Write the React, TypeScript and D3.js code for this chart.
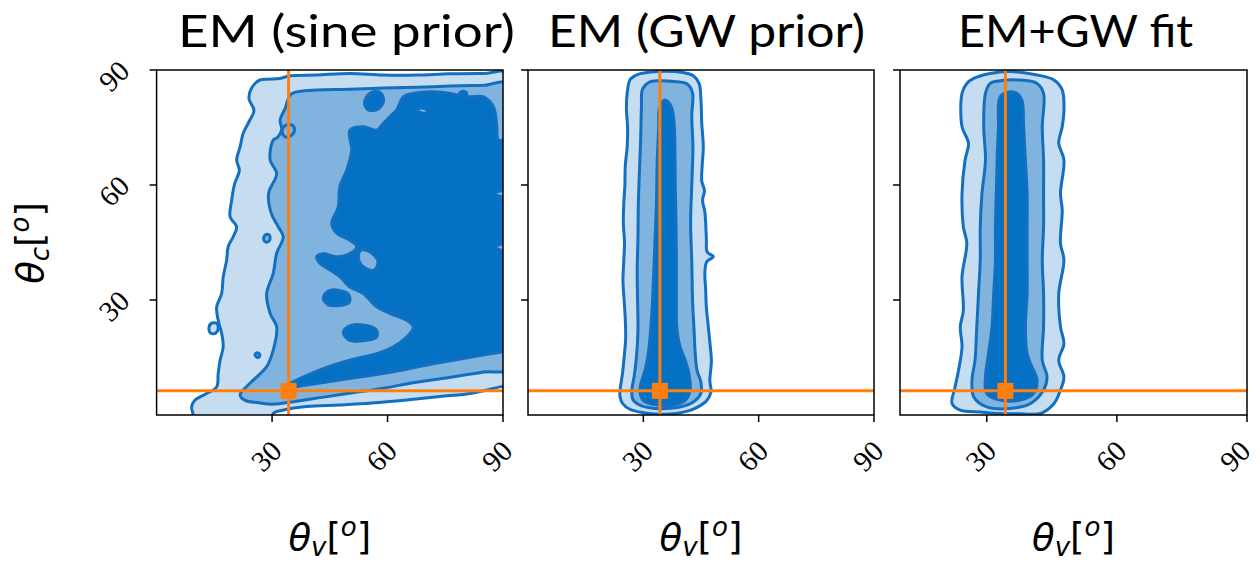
import React from "react";
import * as d3 from "d3";

type P = [number, number];

// ---------- data ----------
const panelTitles = ["EM (sine prior)", "EM (GW prior)", "EM+GW fit"];
const xDomains: [number, number][] = [[0, 90], [0, 90], [10, 90]];
const yDomain: [number, number] = [0, 90];
const xTicks = [30, 60, 90];
const yTicks = [30, 60, 90];
const trueThetaV = 34.3;
const trueThetaC = 6.3;

// Panel 1: EM (sine prior)
const sineOuter: P[] = [
  [92, 88.8], [84.9, 89.1], [76.2, 89.0], [67.6, 88.7], [58.9, 88.7], [50.2, 89.1], [41.6, 88.7],
  [34.7, 88.5], [32, 87.8], [29, 87.6], [26.9, 87.4], [24.8, 85.5], [24.0, 82.5], [25.3, 79.5],
  [24.0, 76.5], [22.5, 73.5], [21.7, 70], [20.8, 66.5], [21.5, 63.8], [20.3, 60.4], [19.5, 56],
  [19.1, 51.7], [20.8, 49.1], [19.9, 46.5], [18.6, 43.9], [18.2, 40.4], [17.3, 36], [16.9, 31.7],
  [15.6, 28.2], [16.0, 24.7], [16.9, 21.3], [17.3, 17.8], [16.5, 14.3], [16.0, 10.8], [15.6, 7.3],
  [13.0, 5.6], [10.0, 3.9], [9.1, 2.1], [9.5, 0], [9.5, -3], [30, -3], [30.3, 0.4], [33, 1.3],
  [39, 2.2], [47.6, 2.6], [56, 3.1], [65, 3.9], [73.6, 4.8], [82, 5.7], [89.6, 7.4], [92, 7.8],
];
const sineOuterIsland: P[] = [[13.6, 22.6], [14.2, 23.9], [15.6, 23.9], [16.0, 22.6], [15.4, 21.4], [14.1, 21.3]];
const sineMedium: P[] = [
  [92, 86.2], [84.9, 86.0], [76.2, 85.8], [67.6, 85.5], [58.9, 85.3], [50.2, 85.0], [41.6, 84.8],
  [36.4, 84.3], [34.7, 83.5], [33.4, 80], [32.1, 77], [32.5, 74.5], [31.5, 72.5], [30.3, 71.7],
  [29.5, 66.5], [31.2, 63], [29.1, 57.8], [29.8, 52.6], [31.6, 49.1], [32.9, 46.5], [31.2, 42.2],
  [30.3, 36.9], [28.6, 31.7], [29.5, 26.5], [31.2, 23], [30.3, 16.9], [28.6, 12.6], [25.1, 9.1],
  [22.5, 6.5], [21.7, 5.2], [23.0, 3.8], [26.5, 3.2], [30, 2.8], [36.4, 3.6], [43, 4.6], [51, 5.8],
  [59, 7.0], [67, 8.5], [76, 9.8], [85, 11.2], [92, 12.5],
];
const sineMediumIslandA: P[] = [[32.6, 74.0], [33.5, 75.6], [35.3, 75.6], [35.8, 74.2], [34.8, 72.8], [33.3, 72.6]];
const sineMediumIslandB: P[] = [[27.8, 46.1], [28.3, 47.0], [29.2, 47.0], [29.5, 46.1], [29.0, 45.2], [28.2, 45.2]];
const sineMediumIslandC: P[] = [[25.6, 15.6], [26.0, 16.2], [26.6, 16.1], [26.8, 15.5], [26.3, 15.0]];
const sineDark: P[] = [
  [64.1, 83.0], [66.7, 83.9], [71.9, 84.3], [76.2, 83.9], [80.6, 83.0], [84.9, 83.0], [87.5, 80.4],
  [88.4, 75.2], [88.8, 71.7], [92, 71.7], [92, 16.8], [90, 16.5], [80, 14.8], [70, 13], [60, 11],
  [50, 9.5], [42, 8.3], [36.5, 7.4], [33.8, 6.6], [33.0, 7.2], [36.4, 9.1], [43.3, 12.1], [50.2, 14.3],
  [57.2, 16.0], [61.5, 17.8], [65.0, 20.4], [66.7, 23.0], [65.0, 24.7], [60.6, 26.5], [57.2, 28.2],
  [53.7, 31.7], [50.2, 33.4], [47.6, 36.1], [45.1, 37.8], [42.5, 39.5], [41.6, 41.3], [43.3, 42.1],
  [46.8, 41.3], [50.2, 42.1], [52.0, 43.9], [50.2, 45.6], [46.8, 47.4], [45.5, 50.0], [47.2, 54.3],
  [47.6, 59.5], [49.4, 63.9], [50.7, 69.1], [50.2, 74.3], [53.7, 75.2], [57.2, 74.3], [58.9, 76.1],
  [61.5, 78.7], [62.4, 79.6],
];
const sineDarkIslandA: P[] = [[43.3, 30.5], [44.5, 32.3], [47.5, 32.5], [50, 31.3], [50, 29.3], [47, 28.5], [44.5, 28.8]];
const sineDarkIslandB: P[] = [[48.5, 21.5], [50, 23.2], [53.5, 23.5], [57, 22.3], [57.2, 20.3], [53, 19.3], [50, 19.6]];
const sineDarkIslandC: P[] = [[54, 81.5], [55.5, 84], [58, 84.2], [59, 82], [57.5, 79.8], [55, 79.6]];
const sineDarkIslandD: P[] = [[78.6, 83.6], [79.3, 84.4], [80.4, 84.2], [80.6, 83.2], [79.6, 82.7]];
const sineMediumHoleA: P[] = [[53.0, 43.0], [55.5, 42.5], [57.5, 40.0], [56.5, 37.8], [54.0, 38.5], [52.5, 40.5]];
const sineMediumHoleB: P[] = [[92, 58.8], [89.5, 58.5], [87.6, 57.8], [89.5, 57.0], [92, 56.8]];
const sineMediumHoleC: P[] = [[92, 45], [89.5, 44.6], [88.0, 43.8], [89.5, 43.0], [92, 42.6]];
const sineMediumHoleD: P[] = [[92, 37], [90.3, 35.5], [92, 34]];
const sineMediumHoleE: P[] = [[67.6, 79.6], [68.8, 80.1], [70.6, 79.3], [69.3, 78.7]];

// Panel 2: EM (GW prior)
const gwPriorOuter: P[] = [
  [26.5, 87.4], [25.8, 84.0], [25.6, 80.0], [25.9, 75.0], [25.8, 70.0], [25.3, 65.0], [25.2, 60.0],
  [24.9, 55.0], [24.8, 50.0], [25.1, 45.0], [24.9, 40.0], [24.7, 35.0], [25.0, 30.0], [25.3, 25.0],
  [25.4, 20.0], [25.0, 15.0], [24.6, 11.0], [24.0, 7.0], [23.9, 5.0], [24.6, 3.0], [26.5, 1.5],
  [30.0, 0.6], [34.3, 0.2], [38.5, 0.4], [41.5, 1.0], [44.0, 2.0], [46.5, 3.8], [47.6, 6.0],
  [47.3, 9.0], [47.7, 14.0], [47.3, 19.0], [46.8, 24.0], [46.4, 28.0], [46.2, 33.0], [46.0, 37.0],
  [46.5, 40.0], [48.2, 41.3], [46.6, 42.5], [46.4, 46.0], [46.0, 53.0], [45.4, 56.0], [45.9, 58.5],
  [45.2, 61.0], [45.3, 65.0], [45.6, 70.0], [45.2, 76.0], [45.0, 82.0], [44.5, 86.5], [43.0, 88.5],
  [40.0, 89.4], [36.0, 89.7], [32.0, 89.5], [29.0, 89.0], [27.5, 88.3],
];
const gwPriorMedium: P[] = [
  [29.8, 85.0], [29.5, 80.0], [29.3, 72.0], [29.0, 64.0], [28.7, 55.0], [28.6, 46.0], [28.4, 38.0],
  [28.5, 30.0], [28.6, 22.0], [28.2, 15.0], [27.6, 10.0], [27.0, 6.5], [27.3, 4.0], [29.0, 2.6],
  [32.0, 1.8], [36.0, 1.7], [40.0, 2.2], [43.0, 3.4], [44.9, 5.5], [45.0, 8.5], [44.0, 11.5],
  [43.5, 16.0], [43.2, 22.0], [42.8, 30.0], [42.6, 40.0], [42.3, 50.0], [42.6, 60.0], [42.9, 70.0],
  [42.6, 78.0], [42.8, 84.0], [41.5, 86.3], [38.0, 87.0], [34.0, 87.2], [31.5, 86.8],
];
const gwPriorDark: P[] = [
  [35.6, 82.2], [37.3, 80.4], [38.0, 76.0], [38.2, 70.0], [38.3, 60.0], [38.5, 50.0], [38.6, 40.0],
  [38.6, 30.0], [38.7, 23.0], [39.5, 18.0], [41.0, 14.0], [42.0, 10.0], [42.1, 6.0], [40.5, 3.5],
  [37.0, 2.5], [33.0, 2.7], [30.0, 3.8], [29.1, 6.5], [29.6, 9.0], [30.5, 12.0], [31.4, 17.0],
  [32.1, 25.0], [32.5, 32.0], [33.0, 45.0], [33.4, 55.0], [33.6, 66.0], [34.0, 75.0], [34.2, 80.0],
];

// Panel 3: EM+GW fit
const fitOuter: P[] = [
  [25.4, 86.5], [24.3, 83.9], [24.3, 75.2], [25.8, 70.9], [25.0, 66.5], [24.3, 57.8], [24.6, 49.1],
  [25.4, 44.8], [24.3, 36.1], [24.6, 27.3], [23.9, 23.0], [24.3, 17.8], [23.5, 11.7], [22.7, 7.3],
  [22.0, 3.0], [23.9, 1.25], [28.5, 0.8], [33.1, 0.4], [38.0, 0.3], [42.4, 0.4], [45.5, 3.0],
  [47.0, 6.5], [47.8, 9.9], [46.6, 14.3], [47.8, 18.6], [47.0, 23.0], [46.6, 31.7], [47.8, 40.4],
  [47.0, 44.8], [47.4, 53.5], [47.0, 57.8], [47.8, 66.5], [46.6, 70.9], [47.4, 75.2], [47.8, 79.6],
  [47.4, 84.8], [45.5, 87.4], [41.6, 88.7], [35.4, 89.6], [30.8, 89.1], [27.0, 87.8],
];
const fitMedium: P[] = [
  [30.8, 86.5], [29.7, 83.9], [29.3, 75.2], [29.7, 66.5], [28.9, 57.8], [28.5, 49.1], [28.5, 40.4],
  [28.1, 31.7], [27.7, 23.0], [27.3, 14.3], [26.6, 9.1], [27.0, 4.7], [30.0, 2.1], [35.4, 1.7],
  [40.1, 3.0], [43.1, 6.5], [43.9, 9.9], [42.8, 14.3], [43.1, 23.0], [43.1, 31.7], [42.8, 40.4],
  [43.1, 49.1], [43.1, 57.8], [43.1, 66.5], [42.8, 75.2], [43.1, 83.9], [41.6, 86.5], [37.0, 87.4],
  [33.1, 87.2],
];
const fitDark: P[] = [
  [35.4, 84.3], [33.1, 83.0], [32.7, 75.2], [32.4, 66.5], [32.2, 57.8], [32.0, 49.1], [32.0, 40.4],
  [31.6, 31.7], [31.2, 23.0], [30.4, 16.0], [29.7, 9.9], [30.0, 5.6], [33.1, 3.9], [37.7, 3.9],
  [40.8, 5.6], [41.6, 9.1], [40.4, 12.6], [39.3, 16.0], [38.9, 23.0], [39.3, 31.7], [39.3, 40.4],
  [39.3, 49.1], [39.3, 57.8], [38.9, 66.5], [38.5, 75.2], [38.1, 82.2], [37.0, 83.9],
];

// level 0 = outer (light), 1 = medium, 2 = dark; drawn in order
const panelShapes: { level: number; pts: P[] }[][] = [
  [
    { level: 0, pts: sineOuter },
    { level: 0, pts: sineOuterIsland },
    { level: 1, pts: sineMedium },
    { level: 1, pts: sineMediumIslandA },
    { level: 1, pts: sineMediumIslandB },
    { level: 1, pts: sineMediumIslandC },
    { level: 2, pts: sineDark },
    { level: 2, pts: sineDarkIslandA },
    { level: 2, pts: sineDarkIslandB },
    { level: 2, pts: sineDarkIslandC },
    { level: 2, pts: sineDarkIslandD },
    { level: 1, pts: sineMediumHoleA },
    { level: 1, pts: sineMediumHoleB },
    { level: 1, pts: sineMediumHoleC },
    { level: 1, pts: sineMediumHoleD },
    { level: 1, pts: sineMediumHoleE },
  ],
  [
    { level: 0, pts: gwPriorOuter },
    { level: 1, pts: gwPriorMedium },
    { level: 2, pts: gwPriorDark },
  ],
  [
    { level: 0, pts: fitOuter },
    { level: 1, pts: fitMedium },
    { level: 2, pts: fitDark },
  ],
];

// ---------- style / layout ----------
const W = 1260;
const H = 563;
const levelFill = ["#c6ddf1", "#80b4df", "#0571c4"];
const strokeColor = "#136fc0";
const orange = "#ff7f0e";
const panelX: [number, number][] = [[156.6, 503], [528, 874], [900, 1247]];
const plotTop = 70;
const plotBottom = 415;
const titleX = [178, 548, 958];
const titleW = [337, 317, 235];
const tickFont = "'Liberation Serif', 'DejaVu Serif', serif";

export default function App() {
  const y = d3.scaleLinear().domain(yDomain).range([plotBottom, plotTop]);
  return (
    <svg
      width={W}
      height={H}
      viewBox={`0 0 ${W} ${H}`}
      style={{ position: "absolute", left: 0, top: 0, background: "#fff" }}
    >
      <rect x={0} y={0} width={W} height={H} fill="#fff" />
      <defs>
        {panelX.map((px, i) => (
          <clipPath id={`clip${i}`} key={i}>
            <rect x={px[0]} y={plotTop} width={px[1] - px[0]} height={plotBottom - plotTop} />
          </clipPath>
        ))}
      </defs>
      {panelX.map((px, i) => {
        const x = d3.scaleLinear().domain(xDomains[i]).range(px);
        const line = d3
          .line<P>()
          .x((d) => x(d[0]))
          .y((d) => y(d[1]))
          .curve(d3.curveCatmullRomClosed.alpha(0.5));
        const cx = (px[0] + px[1]) / 2;
        return (
          <g key={i}>
            <g clipPath={`url(#clip${i})`}>
              {panelShapes[i].map((s, j) => (
                <path
                  key={j}
                  d={line(s.pts) || ""}
                  fill={levelFill[s.level]}
                  stroke={strokeColor}
                  strokeWidth={3}
                  strokeLinejoin="round"
                />
              ))}
              <line x1={x(trueThetaV)} x2={x(trueThetaV)} y1={plotTop} y2={plotBottom} stroke={orange} strokeWidth={3} />
              <line x1={px[0]} x2={px[1]} y1={y(trueThetaC)} y2={y(trueThetaC)} stroke={orange} strokeWidth={3} />
              <rect x={x(trueThetaV) - 8} y={y(trueThetaC) - 8} width={16} height={16} fill={orange} />
            </g>
            <rect
              x={px[0]}
              y={plotTop}
              width={px[1] - px[0]}
              height={plotBottom - plotTop}
              fill="none"
              stroke="#000"
              strokeWidth={1.5}
            />
            {xTicks.map((t) => (
              <g key={`xt${t}`}>
                <line x1={x(t)} x2={x(t)} y1={plotBottom} y2={plotBottom + 7} stroke="#000" strokeWidth={1.5} />
                <text
                  transform={`translate(${Math.min(x(t) - 6, W - 25)},${456}) rotate(-45)`}
                  textAnchor="middle"
                  dominantBaseline="central"
                  fontFamily={tickFont}
                  fontSize={29}
                  fill="#000"
                >
                  {t}
                </text>
              </g>
            ))}
            {yTicks.map((t) => (
              <g key={`yt${t}`}>
                <line x1={px[0] - 7} x2={px[0]} y1={y(t)} y2={y(t)} stroke="#000" strokeWidth={1.5} />
                {i === 0 && (
                  <text
                    transform={`translate(${114},${y(t) + 6}) rotate(-45)`}
                    textAnchor="middle"
                    dominantBaseline="central"
                    fontFamily={tickFont}
                    fontSize={29}
                    fill="#000"
                  >
                    {t}
                  </text>
                )}
              </g>
            ))}
            <text
              x={titleX[i]}
              y={47}
              textLength={titleW[i]}
              lengthAdjust="spacingAndGlyphs"
              fontFamily="Lato, 'Open Sans', sans-serif"
              fontSize={45}
              fill="#000"
            >
              {panelTitles[i]}
            </text>
            <text x={cx} y={550} textAnchor="middle" fontFamily="'DejaVu Sans', sans-serif" fontSize={37} fill="#000">
              <tspan fontStyle="italic">θ</tspan>
              <tspan fontStyle="italic" fontSize={26} dy={6}>v</tspan>
              <tspan dy={-6}>[</tspan>
              <tspan fontStyle="italic" fontSize={26} dy={-14}>o</tspan>
              <tspan dy={14}>]</tspan>
            </text>
          </g>
        );
      })}
      <text
        transform={`translate(43,${243}) rotate(-90)`}
        textAnchor="middle"
        fontFamily="'DejaVu Sans', sans-serif"
        fontSize={37}
        fill="#000"
      >
        <tspan fontStyle="italic">θ</tspan>
        <tspan fontStyle="italic" fontSize={26} dy={6}>c</tspan>
        <tspan dy={-6}>[</tspan>
        <tspan fontStyle="italic" fontSize={26} dy={-14}>o</tspan>
        <tspan dy={14}>]</tspan>
      </text>
    </svg>
  );
}
